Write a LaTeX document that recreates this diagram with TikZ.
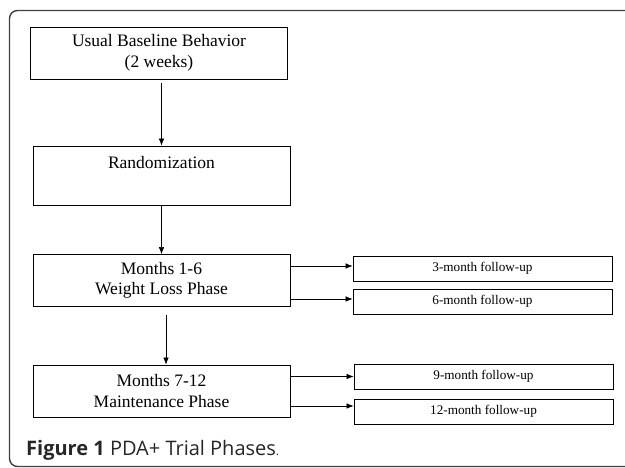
\documentclass[tikz,border=0pt]{standalone}
\usepackage{fontspec}
\setmainfont{Liberation Serif}
\newfontfamily\capfont{Open Sans}
\usetikzlibrary{arrows.meta,positioning}

\tikzset{
  phase/.style={draw, line width=0.8pt, minimum width=257pt, minimum height=52pt,
    align=center, font=\fontsize{17.5}{20.5}\selectfont, inner sep=0pt},
  followup/.style={draw, line width=0.8pt, minimum width=259pt, minimum height=25pt,
    inner sep=0pt, font=\fontsize{13.2}{15}\selectfont},
  arr/.style={-{Latex[length=7pt,width=5.5pt]}, line width=0.6pt}
}

\begin{document}
\begin{tikzpicture}[x=1pt,y=-1pt]
\useasboundingbox (0,0) rectangle (625,468);
% frame
\draw[line width=1.4pt, black!75, rounded corners=8pt] (9.5,10.5) -- (640,10.5) -- (640,466.5) -- (9.5,466.5) -- cycle;

% phases
\node[phase] (base) at (159,53) {Usual Baseline Behavior\\(2 weeks)};
\node[phase, minimum height=0pt, text height=23pt, text depth=36pt] (rand) at (161.5,175.5) {Randomization};
\node[phase] (wl) at (161.5,280.5) {Months 1-6\\Weight Loss Phase};
\node[phase] (mp) at (161.5,391) {Months 7-12\\Maintenance Phase};

% follow-ups
\node[followup] (f3) at (482.5,268.5) {3-month follow-up};
\node[followup] (f6) at (482.5,301.5) {6-month follow-up};
\node[followup] (f9) at (483.5,376.5) {9-month follow-up};
\node[followup] (f12) at (483.5,411.5) {12-month follow-up};

\draw[arr] ([yshift=-4pt]base.south -| rand.north) -- (rand.north);
\draw[arr] (rand.south) -- (wl.north);
\draw[arr] ([xshift=4.5pt,yshift=-8pt]wl.south) -- ([xshift=4.5pt]mp.north);

\draw[arr] ([yshift=2.5pt]wl.east |- f3.west) -- ([yshift=2.5pt]f3.west);
\draw[arr] ([yshift=2.5pt]wl.east |- f6.west) -- ([yshift=2.5pt]f6.west);
\draw[arr] (mp.east |- f9.west) -- (f9.west);
\draw[arr] ([yshift=5.5pt]mp.east |- f12.west) -- ([yshift=5.5pt]f12.west);

% caption
\node[anchor=base west, inner sep=0pt, font=\capfont\fontsize{20}{22}\selectfont, text=black!85] (cap) at (26,456)
  {\textbf{Figure 1} PDA+ Trial Phases{\fontsize{12}{12}\selectfont.}};
\end{tikzpicture}
\end{document}
